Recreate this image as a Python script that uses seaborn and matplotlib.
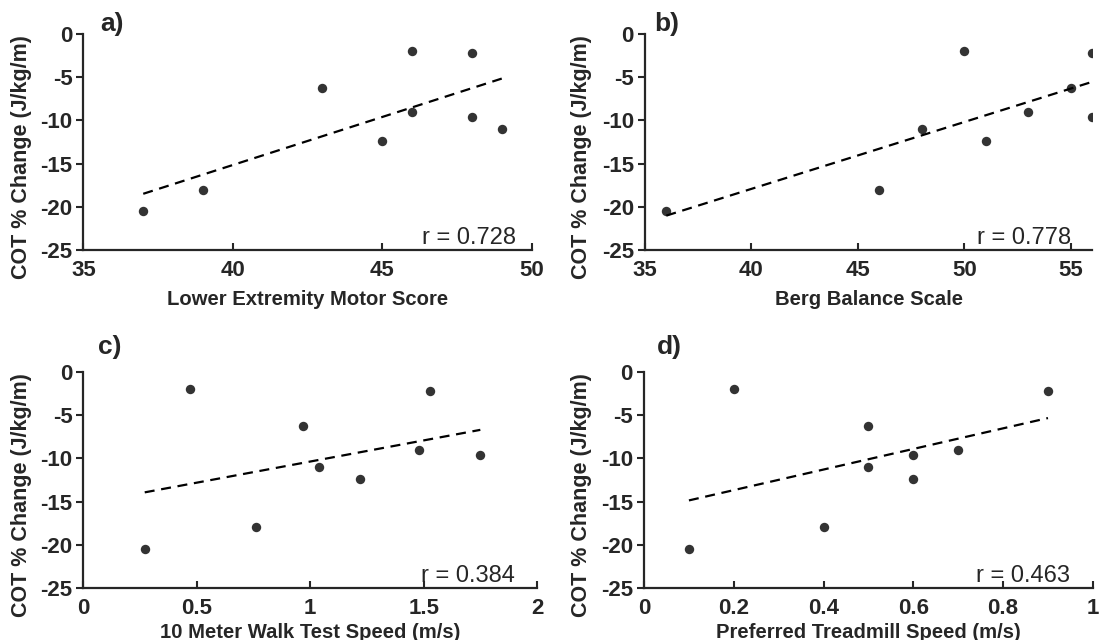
import numpy as np
import pandas as pd
import seaborn as sns
import matplotlib.pyplot as plt

# one entry per subject, COT % change and the four clinical measures
cot_change = [-20.5, -18.0, -12.4, -11.0, -9.6, -9.0, -6.2, -2.2, -2.0]
lems = [37, 39, 45, 49, 48, 46, 43, 48, 46]
berg = [36, 46, 51, 48, 56, 53, 55, 56, 50]
walk_speed = [0.27, 0.76, 1.22, 1.04, 1.75, 1.48, 0.97, 1.53, 0.47]
treadmill_speed = [0.1, 0.4, 0.6, 0.5, 0.6, 0.7, 0.5, 0.9, 0.2]

panel_labels = ["a)", "b)", "c)", "d)"]
x_labels = ["Lower Extremity Motor Score", "Berg Balance Scale",
            "10 Meter Walk Test Speed (m/s)", "Preferred Treadmill Speed (m/s)"]
r_texts = ["r = 0.728", "r = 0.778", "r = 0.384", "r = 0.463"]
x_ticks = [[35, 40, 45, 50], [35, 40, 45, 50, 55], [0, 0.5, 1, 1.5, 2],
           [0, 0.2, 0.4, 0.6, 0.8, 1]]
x_ticklabels = [["35", "40", "45", "50"], ["35", "40", "45", "50", "55"],
                ["0", "0.5", "1", "1.5", "2"], ["0", "0.2", "0.4", "0.6", "0.8", "1"]]
x_lims = [(35, 50), (35, 56), (0, 2), (0, 1)]
y_ticks = [0, -5, -10, -15, -20, -25]

df = pd.DataFrame({"cot": cot_change, "lems": lems, "berg": berg,
                   "walk": walk_speed, "tread": treadmill_speed})
cols = ["lems", "berg", "walk", "tread"]

sns.set_style("ticks")
plt.rcParams['font.family'] = ['Liberation Sans', 'DejaVu Sans']

fig = plt.figure(figsize=(11, 6.4), dpi=100)
positions = [[0.0759, 0.6094, 0.4074, 0.3375],
             [0.5864, 0.6094, 0.4064, 0.3375],
             [0.0759, 0.0813, 0.4123, 0.3375],
             [0.5855, 0.0813, 0.4080, 0.3375]]
r_pos = [0.965, 0.953, 0.951, 0.950]
lab_pos = [(0.091, 0.952), (0.595, 0.952), (0.089, 0.447), (0.597, 0.447)]
xlab_pad = [7, 7, 3, 3]
ylab_x = [-0.115, -0.119, -0.114, -0.116]

for i, col in enumerate(cols):
    ax = fig.add_axes(positions[i])
    sns.regplot(data=df, x=col, y="cot", ax=ax, ci=None, color="black",
                scatter_kws={"s": 46, "linewidths": 0, "zorder": 3},
                line_kws={"linewidth": 1.6, "linestyle": (0, (4.5, 3))})
    ax.set_xlim(x_lims[i])
    ax.set_ylim(-25, 0)
    ax.set_xticks(x_ticks[i])
    ax.set_xticklabels(x_ticklabels[i])
    ax.set_yticks(y_ticks)
    ax.set_yticklabels([str(t) for t in y_ticks])
    for lab in ax.get_xticklabels() + ax.get_yticklabels():
        lab.set_fontweight("bold")
        lab.set_fontsize(16)
    ax.tick_params(axis="x", direction="in", length=5, width=1.5, pad=7)
    ax.tick_params(axis="y", direction="out", length=5, width=1.5, pad=3)
    sns.despine(ax=ax)
    for s in ["left", "bottom"]:
        ax.spines[s].set_linewidth(1.6)
    ax.set_xlabel(x_labels[i], fontsize=14.6, fontweight="bold", labelpad=xlab_pad[i])
    ax.set_ylabel("COT % Change (J/kg/m)", fontsize=15.5, fontweight="bold")
    ax.yaxis.set_label_coords(ylab_x[i], 0.43)
    ax.text(r_pos[i], 0.005, r_texts[i], transform=ax.transAxes, ha="right",
            va="bottom", fontsize=17)
    fig.text(lab_pos[i][0], lab_pos[i][1], panel_labels[i], fontsize=19,
             fontweight="bold", ha="left", va="baseline")

fig.savefig("out.png", dpi=100)
